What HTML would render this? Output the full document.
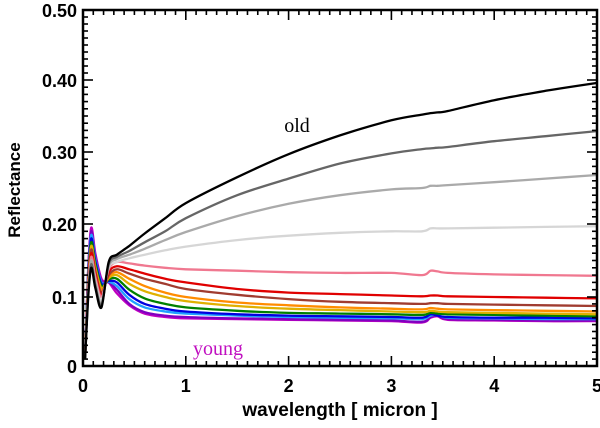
<!DOCTYPE html>
<html><head><meta charset="utf-8"><style>
body{margin:0;background:#fff;}
svg{display:block;font-family:"Liberation Sans",sans-serif;}
</style></head><body>
<svg id="chart" width="600" height="428" xmlns="http://www.w3.org/2000/svg">
<g id="marks"></g>
<g id="axes"></g>
<text x="297" y="132" font-size="20" font-family="Liberation Serif, serif" text-anchor="middle" fill="#000">old</text>
<text x="218" y="355" font-size="20" font-family="Liberation Serif, serif" text-anchor="middle" fill="#c010c0">young</text>
<text x="340" y="416" font-size="19" font-weight="bold" text-anchor="middle">wavelength [ micron ]</text>
<text x="0" y="0" font-size="17" font-weight="bold" text-anchor="middle" transform="translate(20,190) rotate(-90)">Reflectance</text>
</svg>
<script>
const wl = [0.02,0.05,0.08,0.12,0.18,0.25,0.33,0.45,0.6,0.8,1,1.5,2,2.5,3,3.3,3.38,3.45,3.55,4,4.5,5];
const seriesColors = ["#000000","#666666","#aaaaaa","#d6d6d6","#f07890","#e00000","#a03c30","#ff8c00","#e0b000","#008000","#0000e0","#20a0ff","#8000c0","#c000c0"];
const seriesNames = ["black","dark-gray","gray","light-gray","pink","red","brown","orange","gold","green","blue","cyan","purple","magenta"];
const peaks = [0.14,0.145,0.15,0.15,0.155,0.16,0.165,0.165,0.17,0.175,0.18,0.185,0.19,0.195];
const dips = [0.085,0.088,0.09,0.095,0.10,0.103,0.106,0.109,0.112,0.115,0.118,0.12,0.122,0.125];
const at025 = [0.148,0.145,0.142,0.14,0.138,0.134,0.13,0.128,0.126,0.124,0.122,0.121,0.12,0.12];
const rows = [
[.158,.155,.152,.148,.148,.142,.138,.134,.13,.125,.12,.115,.11,.105],
[.17,.163,.158,.153,.146,.138,.132,.125,.118,.11,.103,.097,.09,.088],
[.187,.175,.166,.158,.143,.132,.125,.115,.108,.098,.09,.085,.078,.076],
[.208,.19,.178,.164,.14,.125,.118,.106,.1,.09,.083,.079,.073,.071],
[.229,.208,.189,.169,.138,.12,.111,.1,.094,.085,.079,.076,.071,.069],
[.265,.24,.211,.178,.136,.111,.103,.092,.087,.08,.075,.073,.069,.068],
[.297,.263,.228,.184,.134,.106,.097,.088,.083,.077,.073,.071,.068,.067],
[.323,.284,.24,.188,.133,.104,.093,.085,.081,.076,.072,.07,.067,.066],
[.344,.298,.248,.19,.133,.102,.091,.083,.079,.075,.071,.069,.066,.065],
[.352,.304,.25,.19,.130,.101,.09,.082,.078,.074,.07,.068,.064,.063],
[.354,.305,.253,.194,.136,.102,.091,.084,.08,.077,.075,.073,.071,.07],
[.355,.306,.253,.194,.135,.102,.091,.083,.079,.076,.073,.074,.073,.072],
[.357,.307,.254,.194,.133,.101,.09,.082,.078,.075,.071,.07,.068,.067],
[.372,.315,.258,.195,.131,.1,.089,.081,.077,.074,.07,.069,.067,.066],
[.385,.322,.263,.196,.13,.099,.088,.08,.076,.073,.07,.068,.066,.065],
[.396,.329,.268,.197,.129,.098,.087,.079,.075,.072,.069,.068,.066,.065]];
const xTicks = [0,1,2,3,4,5];
const yTicks = [0,0.1,0.2,0.3,0.4,0.5];
const yTickLabels = ["0","0.1","0.20","0.30","0.40","0.50"];

const X0=83,X1=597,YT=10,YB=366;
const yKnots=[366,297,224,152,80,10];
function xs(v){return X0+(v/5)*(X1-X0);}
function ys(v){let i=Math.min(4,Math.max(0,Math.floor(v/0.1)));let f=(v-i*0.1)/0.1;return yKnots[i]+(yKnots[i+1]-yKnots[i])*f;}
const NS="http://www.w3.org/2000/svg";
const marks=document.getElementById('marks'), axes=document.getElementById('axes');
function smooth(pts){
  let d='M'+pts[0][0].toFixed(1)+','+pts[0][1].toFixed(1);
  for(let i=0;i<pts.length-1;i++){
    const p0=pts[Math.max(0,i-1)],p1=pts[i],p2=pts[i+1],p3=pts[Math.min(pts.length-1,i+2)];
    const t=0.16;
    const c1=[p1[0]+(p2[0]-p0[0])*t,p1[1]+(p2[1]-p0[1])*t];
    const c2=[p2[0]-(p3[0]-p1[0])*t,p2[1]-(p3[1]-p1[1])*t];
    d+='C'+c1[0].toFixed(1)+','+c1[1].toFixed(1)+' '+c2[0].toFixed(1)+','+c2[1].toFixed(1)+' '+p2[0].toFixed(1)+','+p2[1].toFixed(1);
  }
  return d;
}
for(let s=seriesColors.length-1;s>=0;s--){
  const vals=[0.01,peaks[s]*0.7,peaks[s],(peaks[s]+dips[s])/2,dips[s],at025[s]].concat(rows.map(r=>r[s]));
  const pts=vals.map((v,i)=>[xs(wl[i]),ys(v)]);
  const p=document.createElementNS(NS,'path');
  p.setAttribute('d',smooth(pts));p.setAttribute('fill','none');p.setAttribute('stroke',seriesColors[s]);
  p.setAttribute('stroke-width','2.3');p.setAttribute('stroke-linejoin','round');
  
  
  marks.appendChild(p);
}
function line(x1,y1,x2,y2,w){const l=document.createElementNS(NS,'line');l.setAttribute('x1',x1);l.setAttribute('y1',y1);l.setAttribute('x2',x2);l.setAttribute('y2',y2);l.setAttribute('stroke','#000');l.setAttribute('stroke-width',w);axes.appendChild(l);return l;}
const frame=document.createElementNS(NS,'rect');
frame.setAttribute('x',X0);frame.setAttribute('y',YT);frame.setAttribute('width',X1-X0);frame.setAttribute('height',YB-YT);
frame.setAttribute('fill','none');frame.setAttribute('stroke','#000');frame.setAttribute('stroke-width','2.5');


axes.appendChild(frame);
for(let i=0;i<=50;i++){const x=xs(i*0.1);const L=(i%10==0)?10:5;line(x,YB,x,YB-L,1.6);line(x,YT,x,YT+L,1.6);}
for(let i=0;i<=50;i++){const y=ys(i*0.01);const L=(i%10==0)?10:5;line(X0,y,X0+L,y,1.6);line(X1,y,X1-L,y,1.6);}
xTicks.forEach(v=>{const t=document.createElementNS(NS,'text');t.setAttribute('x',xs(v));t.setAttribute('y',392);t.setAttribute('font-size','18');t.setAttribute('font-weight','bold');t.setAttribute('text-anchor','middle');t.textContent=v;


axes.appendChild(t);});
yTicks.forEach((v,i)=>{const t=document.createElementNS(NS,'text');t.setAttribute('x',X0-6);t.setAttribute('y',ys(v)+7);t.setAttribute('font-size','18');t.setAttribute('font-weight','bold');t.setAttribute('text-anchor','end');t.textContent=yTickLabels[i];


axes.appendChild(t);});
</script>
</body></html>
